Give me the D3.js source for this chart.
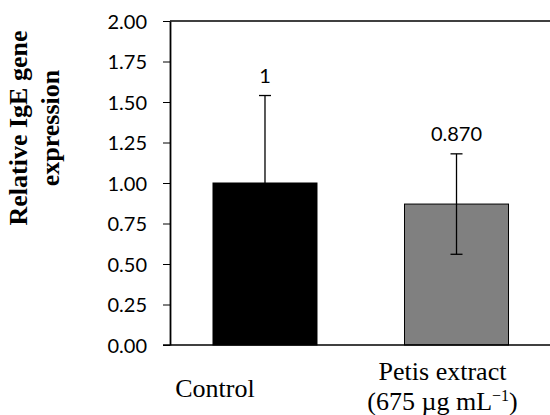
<!DOCTYPE html>
<html>
<head>
<meta charset="utf-8">
<script src="https://cdn.jsdelivr.net/npm/d3@7"></script>
<style>
  body { margin: 0; background: #fff; }
  svg { display: block; }
</style>
</head>
<body>
<div id="chart"></div>
<script>
// data
const categories = ["Control", "Petis extract"];
const values = [1, 0.870];
const errors = [0.54, 0.31];
const valueLabels = ["1", "0.870"];
const yTicks = [0, 0.25, 0.5, 0.75, 1, 1.25, 1.5, 1.75, 2];

const width = 550, height = 415;
const plot = { left: 170, right: 551.5, top: 21, bottom: 345 };

const svg = d3.select("#chart").append("svg")
    .attr("width", width)
    .attr("height", height);

const x = d3.scaleBand()
    .domain(categories)
    .range([plot.left, plot.right])
    .paddingInner(0.457)
    .paddingOuter(0.2245);

const y = d3.scaleLinear()
    .domain([0, 2])
    .range([plot.bottom, plot.top]);

const color = d3.scaleOrdinal()
    .domain(categories)
    .range(["#000000", "#808080"]);

// frame: top line and left axis
svg.append("line")
    .attr("x1", plot.left).attr("x2", plot.right)
    .attr("y1", plot.top).attr("y2", plot.top)
    .attr("stroke", "#000").attr("stroke-width", 1.5);

// y axis
const yAxis = svg.append("g")
    .attr("transform", "translate(" + plot.left + ",0)")
    .call(d3.axisLeft(y).tickValues(yTicks).tickSize(7).tickSizeOuter(0)
        .tickFormat(d3.format(".2f")));
yAxis.select(".domain").attr("stroke-width", 1.8);
yAxis.selectAll(".tick line").attr("stroke-width", 1);
yAxis.selectAll(".tick text")
    .attr("x", -23)
    .attr("dy", "0.36em")
    .style("font-family", "Lato, 'Open Sans', sans-serif")
    .style("font-size", "20px")
    .attr("fill", "#000");

// bars
svg.selectAll(".bar")
    .data(categories)
    .enter().append("rect")
    .attr("class", "bar")
    .attr("x", d => x(d))
    .attr("y", (d, i) => y(values[i]))
    .attr("width", x.bandwidth())
    .attr("height", (d, i) => y(0) - y(values[i]))
    .attr("fill", d => color(d))
    .attr("stroke", "#000")
    .attr("stroke-width", 1);

// bottom axis line (drawn after bars)
svg.append("line")
    .attr("x1", plot.left - 7).attr("x2", plot.right)
    .attr("y1", plot.bottom).attr("y2", plot.bottom)
    .attr("stroke", "#000").attr("stroke-width", 1.5);

// error bars
const cap = 6;
const err = svg.selectAll(".err")
    .data(categories)
    .enter().append("g")
    .attr("class", "err")
    .attr("stroke", "#000")
    .attr("stroke-width", 1.3);
err.append("line")
    .attr("x1", d => x(d) + x.bandwidth() / 2)
    .attr("x2", d => x(d) + x.bandwidth() / 2)
    .attr("y1", (d, i) => y(values[i] - errors[i]))
    .attr("y2", (d, i) => y(values[i] + errors[i]));
err.append("line")
    .attr("x1", d => x(d) + x.bandwidth() / 2 - cap)
    .attr("x2", d => x(d) + x.bandwidth() / 2 + cap)
    .attr("y1", (d, i) => y(values[i] + errors[i]))
    .attr("y2", (d, i) => y(values[i] + errors[i]));
err.append("line")
    .attr("x1", d => x(d) + x.bandwidth() / 2 - cap)
    .attr("x2", d => x(d) + x.bandwidth() / 2 + cap)
    .attr("y1", (d, i) => y(values[i] - errors[i]))
    .attr("y2", (d, i) => y(values[i] - errors[i]));

// value labels above the error bars
svg.selectAll(".val")
    .data(categories)
    .enter().append("text")
    .attr("class", "val")
    .attr("x", d => x(d) + x.bandwidth() / 2)
    .attr("y", (d, i) => y(values[i] + errors[i]) - 13)
    .attr("text-anchor", "middle")
    .style("font-family", "Lato, 'Open Sans', sans-serif")
    .style("font-size", "20px")
    .text((d, i) => valueLabels[i]);

// category labels (offset left of bar centres, as in the figure)
const serif = "'Liberation Serif', 'Times New Roman', serif";
svg.append("text")
    .attr("x", x("Control") + x.bandwidth() / 2 - 50)
    .attr("y", 397)
    .attr("text-anchor", "middle")
    .style("font-family", serif)
    .style("font-size", "26px")
    .text("Control");

const petis = svg.append("text")
    .attr("text-anchor", "middle")
    .style("font-family", serif)
    .style("font-size", "26px");
const px = x("Petis extract") + x.bandwidth() / 2 - 14;
petis.append("tspan").attr("x", px).attr("y", 380).text("Petis extract");
const l2 = petis.append("tspan").attr("x", px).attr("y", 410);
l2.append("tspan").text("(675 µg mL");
l2.append("tspan").attr("dy", -9).style("font-size", "16px").text("−1");
l2.append("tspan").attr("dy", 9).text(")");

// y axis title
const yt = svg.append("text")
    .attr("transform", "translate(0,128) rotate(-90)")
    .attr("text-anchor", "middle")
    .style("font-family", serif)
    .style("font-size", "26px")
    .style("font-weight", "bold");
yt.append("tspan").attr("x", 0).attr("y", 27).text("Relative IgE gene");
yt.append("tspan").attr("x", 0).attr("y", 59).text("expression");
</script>
</body>
</html>
